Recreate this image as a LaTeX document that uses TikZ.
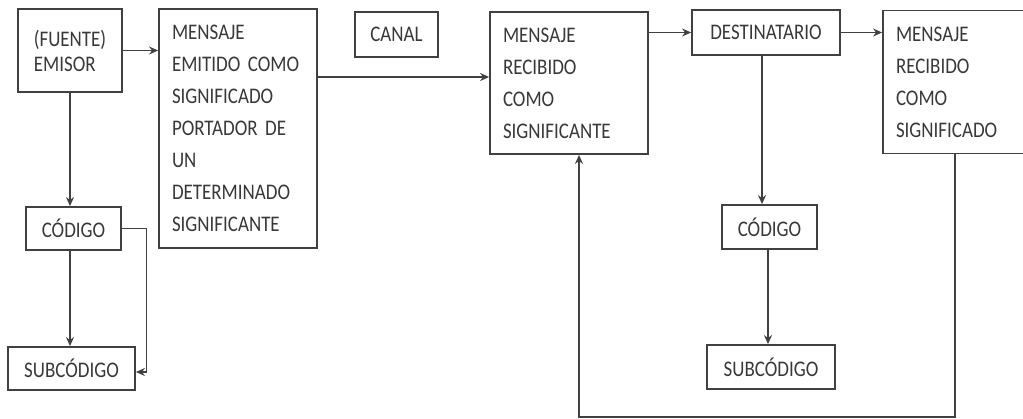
\documentclass[tikz,border=0pt]{standalone}
\usepackage{fontspec}
\setmainfont{Carlito}[FakeStretch=0.85]
\usetikzlibrary{positioning,arrows.meta}
\tikzset{
    box/.style={draw=black!75, line width=1.8pt, text=black!78, inner sep=0pt, align=center, font=\fontsize{22.3}{32}\selectfont}, % cajas simples
    bigbox/.style={box, align=left, inner xsep=13pt}, % cajas con varias lineas
    arrow/.style={draw=black!75, line width=1.8pt, -{Stealth[length=9pt,width=8pt]}},
}
\begin{document}
\begin{tikzpicture}[x=1pt, y=-1pt]
    \useasboundingbox (0,0) rectangle (1023,419);
    % Nodos
    \node[box, align=left, minimum width=104pt, minimum height=83pt, font=\fontsize{22.3}{25}\selectfont] (emisor) at (70,50.5) {(FUENTE)\\EMISOR};
    \node[bigbox, text width=132pt, minimum height=239pt] (emitido) at (238,128.5) {MENSAJE\\EMITIDO COMO\\SIGNIFICADO\\PORTADOR DE\\UN\\DETERMINADO\\SIGNIFICANTE};
    \node[box, minimum width=83pt, minimum height=45pt] (canal) at (396.5,34.5) {CANAL};
    \node[bigbox, text width=132pt, minimum height=142pt] (recibido) at (569,83) {MENSAJE\\RECIBIDO\\COMO\\SIGNIFICANTE};
    \node[box, minimum width=148pt, minimum height=45pt] (destinatario) at (766,32.5) {DESTINATARIO};
    \node[bigbox, text width=119pt, minimum height=143pt] (significado) at (955.5,82) {MENSAJE\\RECIBIDO\\COMO\\SIGNIFICADO};
    \node[box, minimum width=95pt, minimum height=43pt] (codA) at (73.5,228.5) {CÓDIGO};
    \node[box, minimum width=127pt, minimum height=43pt] (subA) at (71.5,368.5) {SUBCÓDIGO};
    \node[box, minimum width=95pt, minimum height=44pt] (codB) at (769.5,227) {CÓDIGO};
    \node[box, minimum width=128pt, minimum height=44pt] (subB) at (771,367) {SUBCÓDIGO};
    \coordinate (entrada) at ([yshift=6pt]recibido.west);

    % Conexiones
    \draw[arrow] (emisor.east) -- (emitido.west |- emisor.east);
    \draw[arrow] (emitido.east |- entrada) -- (entrada);
    \draw[arrow] (recibido.east |- destinatario) -- (destinatario.west);
    \draw[arrow] (destinatario.east) -- (significado.west |- destinatario.east);
    \draw[arrow] (emisor.south) -- (emisor.south |- codA.north);
    \draw[arrow] ([xshift=-3.5pt]codA.south) -- ([xshift=-3.5pt]codA.south |- subA.north);
    \draw[arrow] (codA.east) -- ++(24.5,0) |- ([yshift=-3.5pt]subA.east);
    \draw[arrow] ([xshift=-4pt]destinatario.south) -- ([xshift=-4pt]destinatario.south |- codB.north);
    \draw[arrow] ([xshift=-1.5pt]codB.south) -- ([xshift=-1.5pt]codB.south |- subB.north);
    \draw[arrow] ([xshift=-0.5pt]significado.south) -- ++(0,263) -| ([xshift=10pt]recibido.south);
\end{tikzpicture}
\end{document}
